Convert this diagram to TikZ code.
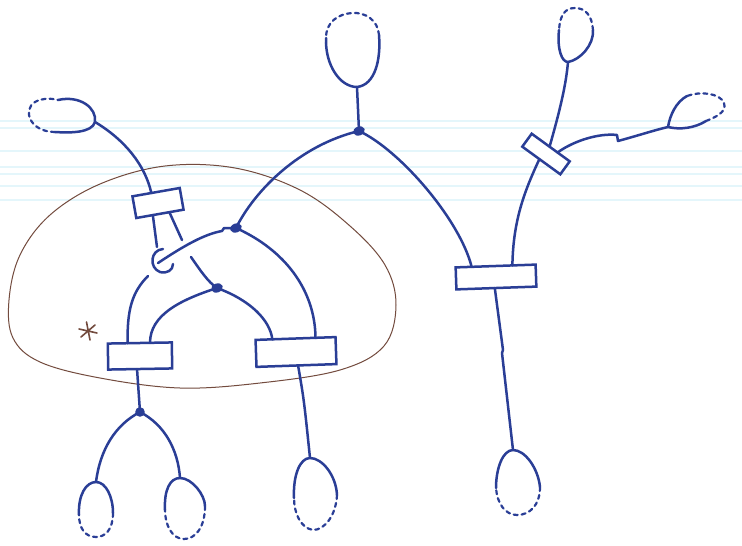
\documentclass[tikz,border=0pt]{standalone}
\usetikzlibrary{calc}
\definecolor{pen}{RGB}{42,62,150}
\definecolor{pencil}{RGB}{115,75,62}
\definecolor{rule}{RGB}{228,246,251}
\tikzset{
  ink/.style={draw=pen, line width=2.5pt, line cap=round, line join=round},
  inkdash/.style={ink, line width=2.2pt, dash pattern=on 4pt off 4pt},
  boxnode/.style={draw=pen, line width=2.5pt, fill=white, inner sep=0pt, outer sep=0pt},
  region/.style={draw=pencil, line width=1pt},
  ruled/.style={draw=rule, line width=1.3pt}
}
\begin{document}
\begin{tikzpicture}[x=1pt,y=-1pt]
  \fill[white] (0,0) rectangle (742,546);
  \useasboundingbox (0,0) rectangle (742,546);

  % faint ruling of the paper
  \foreach \yy in {121,128,151,167,174,186,200}
    \draw[ruled] (0,\yy) -- (742,\yy);

  % the pencil region
  \draw[region] plot[smooth cycle, tension=0.6] coordinates {
    (9,300) (20,255) (50,215) (100,184) (165,166) (235,168) (300,190)
    (350,226) (385,265) (396,305) (384,346) (340,370) (260,383)
    (180,388) (100,378) (40,362) (13,338)};

  % asterisk
  \coordinate (star) at (88,331);
  \draw[pencil, line width=1.6pt, line cap=round]
    ($(star)+(-1.5,-9)$) -- ($(star)+(2,9)$)
    ($(star)+(-9,-2)$) -- ($(star)+(9,2)$)
    ($(star)+(-7,6)$) -- ($(star)+(7,-6)$);

  % boxes
  \node[boxnode, minimum width=48pt, minimum height=22pt, rotate=10] (b1) at (158,203) {};
  \node[boxnode, minimum width=64pt, minimum height=26pt, rotate=1] (b2) at (140,356) {};
  \node[boxnode, minimum width=80pt, minimum height=27pt, rotate=2] (b3) at (296,352) {};
  \node[boxnode, minimum width=80pt, minimum height=22pt, rotate=2] (b4) at (496,277) {};
  \node[boxnode, minimum width=47pt, minimum height=16pt, rotate=-36] (b5) at (546,154) {};

  % junction dots
  \coordinate (dA) at (236,228);
  \coordinate (dB) at (359,131);
  \coordinate (dC) at (217,288);
  \coordinate (dD) at (140,412);
  \fill[pen, rotate around={20:(dA)}] (dA) ellipse [x radius=6pt, y radius=4.5pt];
  \fill[pen, rotate around={20:(dB)}] (dB) ellipse [x radius=6pt, y radius=4.5pt];
  \fill[pen, rotate around={20:(dC)}] (dC) ellipse [x radius=6pt, y radius=4.5pt];
  \fill[pen] (dD) circle [radius=4.8pt];

  % attachment points of the loops
  \coordinate (lTL) at (95,122);
  \coordinate (lTM) at (357,87);
  \coordinate (lTR) at (568,62);
  \coordinate (lR)  at (668,127);
  \coordinate (lB1) at (96,482);
  \coordinate (lB2) at (180,478);
  \coordinate (lB3) at (310,458);
  \coordinate (lB4) at (513,450);

  % loops: solid part, then dashed part
  \draw[ink] (58,100) .. controls (80,95) and (97,108) .. (lTL)
             .. controls (92,133) and (70,133) .. (55,132);
  \draw[inkdash] (55,132) .. controls (30,132) and (22,110) .. (35,102)
             .. controls (42,98) and (50,98) .. (58,100);

  \draw[ink] (326,38) .. controls (325,65) and (340,87) .. (lTM)
             .. controls (375,85) and (381,60) .. (379,35);
  \draw[inkdash] (379,35) .. controls (378,20) and (365,12) .. (352,13)
             .. controls (338,14) and (326,22) .. (326,38);

  \draw[ink] (559,30) .. controls (557,50) and (562,62) .. (lTR)
             .. controls (580,60) and (594,45) .. (593,30);
  \draw[inkdash] (593,30) .. controls (592,15) and (585,8) .. (575,8)
             .. controls (565,8) and (560,15) .. (559,30);

  \draw[ink] (687,96) .. controls (676,102) and (670,115) .. (lR)
             .. controls (680,130) and (695,128) .. (706,121);
  \draw[inkdash] (706,121) .. controls (716,117) and (727,112) .. (724,103)
             .. controls (720,93) and (700,91) .. (687,96);

  \draw[ink] (79,515) .. controls (78,495) and (86,482) .. (lB1)
             .. controls (106,482) and (113,497) .. (113,513);
  \draw[inkdash] (113,513) .. controls (113,530) and (105,537) .. (96,537)
             .. controls (85,537) and (79,528) .. (79,515);

  \draw[ink] (165,510) .. controls (164,490) and (170,478) .. (lB2)
             .. controls (192,478) and (205,495) .. (205,506);
  \draw[inkdash] (205,506) .. controls (205,528) and (195,539) .. (184,539)
             .. controls (172,539) and (165,525) .. (165,510);

  \draw[ink] (294,498) .. controls (293,475) and (300,458) .. (lB3)
             .. controls (322,458) and (336,475) .. (337,495);
  \draw[inkdash] (337,495) .. controls (336,515) and (325,530) .. (313,530)
             .. controls (300,528) and (294,512) .. (294,498);

  \draw[ink] (496,488) .. controls (496,468) and (503,450) .. (lB4)
             .. controls (525,450) and (538,468) .. (540,487);
  \draw[inkdash] (540,487) .. controls (540,505) and (530,515) .. (517,515)
             .. controls (505,515) and (497,503) .. (496,488);

  % strands around the crossing under the first box
  \coordinate (hookTop) at (157,247);
  \coordinate (hookIn)  at (158,263);
  \coordinate (underA)  at (182,240);
  \coordinate (underB)  at (191,257);
  \coordinate (underC)  at (148,276);

  \draw[ink] (lTL) .. controls (125,140) and (145,165) .. ($(b1.north west)!0.4!(b1.north east)$);
  \draw[ink] ($(b1.south west)!0.35!(b1.south east)$) .. controls (155,232) .. (hookTop);
  \draw[ink] (163,249) .. controls (150,250) and (149,268) .. (160,272)
             .. controls (167,274) and (173,270) .. (173,264);
  \draw[ink] (hookIn) .. controls (185,245) and (205,234) .. (222,231) -- (224,228) -- (dA);
  \draw[ink] ($(b1.south west)!0.7!(b1.south east)$) -- (underA);
  \draw[ink] (underB) .. controls (200,270) and (208,282) .. (dC);
  \draw[ink] (underC) .. controls (132,292) and (127,310) .. ($(b2.north west)!0.31!(b2.north east)$);

  % strands inside the region
  \draw[ink] (dA) .. controls (255,190) and (300,145) .. (dB);
  \draw[ink] (dA) .. controls (285,250) and (315,290) .. ($(b3.north west)!0.75!(b3.north east)$);
  \draw[ink] (dC) .. controls (180,300) and (150,315) .. ($(b2.north west)!0.66!(b2.north east)$);
  \draw[ink] (dC) .. controls (250,300) and (270,320) .. ($(b3.north west)!0.21!(b3.north east)$);

  % strands below the region
  \draw[ink] ($(b2.south west)!0.45!(b2.south east)$) -- (dD);
  \draw[ink] (dD) .. controls (115,425) and (100,450) .. (lB1);
  \draw[ink] (dD) .. controls (165,425) and (178,450) .. (lB2);
  \draw[ink] ($(b3.south west)!0.52!(b3.south east)$) .. controls (304,400) .. (lB3);

  % right-hand tree
  \draw[ink] (lTM) -- (dB);
  \draw[ink] (dB) .. controls (400,150) and (460,220) .. ($(b4.north west)!0.2!(b4.north east)$);
  \draw[ink] ($(b4.south west)!0.48!(b4.south east)$) -- (503,350) -- (502,353) -- (lB4);
  \draw[ink] ($(b4.north west)!0.71!(b4.north east)$) .. controls (513,220) and (525,190) .. ($(b5.south west)!0.45!(b5.south east)$);
  \draw[ink] ($(b5.north west)!0.47!(b5.north east)$) .. controls (560,110) and (566,85) .. (lTR);
  \draw[ink] ($(b5.north west)!0.68!(b5.north east)$) .. controls (575,140) and (600,133) .. (617,135)
             -- (618,141) .. controls (640,135) and (655,130) .. (lR);
\end{tikzpicture}
\end{document}
